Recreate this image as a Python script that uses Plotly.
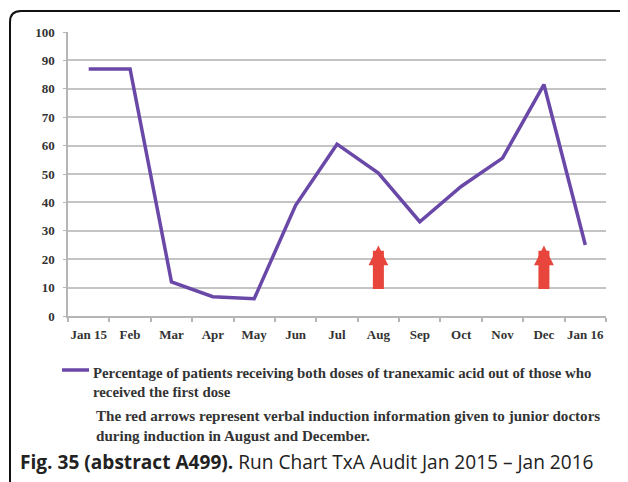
import plotly.graph_objects as go

months = ["Jan 15", "Feb", "Mar", "Apr", "May", "Jun", "Jul", "Aug", "Sep", "Oct", "Nov", "Dec", "Jan 16"]
pct_both_doses = [87, 87, 12, 6.8, 6.1, 39, 60.5, 50.3, 33.2, 45.6, 55.6, 81.5, 25]
arrow_months = ["Aug", "Dec"]
arrow_tip = 24.8
arrow_base = 9.0
y_ticks = list(range(0, 101, 10))

series_name = ("Percentage of patients receiving both doses of tranexamic acid out of those who"
               "<br>received the first dose")
note_text = ("The red arrows represent verbal induction information given to junior doctors"
             "<br>during induction in August and December.")
caption = "<b>Fig. 35 (abstract A499).</b> Run Chart TxA Audit Jan 2015 – Jan 2016"

# the page body adds an 8px margin, so the figure is 8px smaller than the window
OFF = 8
W, H = 628 - OFF, 482 - OFF
L, R, T, B = 68 - OFF, 22, 32 - OFF, 166
PW, PH = W - L - R, H - T - B
LINE_COLOR = "#6a48a8"


def px(x):
    """screen pixel x -> paper fraction"""
    return (x - OFF - L) / PW


def py(y):
    """screen pixel y -> paper fraction"""
    return (H - B - (y - OFF)) / PH


SERIF = "Liberation Serif"
TXT = "#333333"

fig = go.Figure()
fig.add_trace(go.Scatter(
    x=months, y=pct_both_doses, mode="lines", name=series_name,
    line=dict(color=LINE_COLOR, width=3.5), showlegend=False,
))

for m in arrow_months:
    fig.add_annotation(
        x=m, y=arrow_tip, ax=m, ay=arrow_base, xref="x", yref="y", axref="x", ayref="y",
        text="", showarrow=True, arrowhead=2, arrowwidth=11, arrowsize=0.36,
        arrowcolor="#e8453c",
    )

# legend (drawn manually so it does not push the margins)
fig.add_shape(
    type="line", xref="paper", yref="paper",
    x0=px(62), x1=px(89), y0=py(370), y1=py(370),
    line=dict(color=LINE_COLOR, width=3.5),
)
fig.add_annotation(
    x=px(91), y=py(382), xref="paper", yref="paper", xanchor="left", yanchor="middle",
    text=series_name, showarrow=False, align="left",
    font=dict(family=SERIF, size=14.8, color=TXT, weight="bold"),
)
fig.add_annotation(
    x=px(94), y=py(426), xref="paper", yref="paper", xanchor="left", yanchor="middle",
    text=note_text, showarrow=False, align="left",
    font=dict(family=SERIF, size=15.1, color=TXT, weight="bold"),
)
fig.add_annotation(
    x=px(18), y=py(462), xref="paper", yref="paper", xanchor="left", yanchor="middle",
    text=caption, showarrow=False, align="left",
    font=dict(family="Open Sans", size=19.1, color="#222222"),
)

# frame around the figure
fig.add_shape(
    type="path", xref="paper", yref="paper",
    path=(f"M {px(10)},{py(482)} L {px(10)},{py(22)} "
          f"Q {px(10)},{py(11)} {px(21)},{py(11)} L {px(628)},{py(11)}"),
    line=dict(color="#111111", width=2),
)

fig.update_layout(
    width=W, height=H, autosize=False,
    margin=dict(l=L, r=R, t=T, b=B),
    paper_bgcolor="white", plot_bgcolor="white",
    showlegend=False,
)
fig.update_xaxes(
    type="category", categoryorder="array", categoryarray=months,
    range=[-0.5, 12.5], showgrid=False, showline=True, linecolor="#b5b5b5", linewidth=1.5,
    ticks="outside", tickson="boundaries", ticklen=4, tickcolor="#b5b5b5", tickwidth=1.5,
    tickangle=0,
    tickfont=dict(family=SERIF, size=13, color=TXT, weight="bold"),
    ticklabelstandoff=6, fixedrange=True,
)
fig.update_yaxes(
    range=[0, 100], tickvals=y_ticks, showgrid=True, gridcolor="#c4c4c4", gridwidth=1.5,
    showline=True, linecolor="#b5b5b5", linewidth=1.5, zeroline=False,
    ticks="outside", ticklen=3, tickcolor="#b5b5b5",
    tickfont=dict(family=SERIF, size=13, color=TXT, weight="bold"),
    ticklabelstandoff=6, fixedrange=True,
)

fig.write_html("out.html")
